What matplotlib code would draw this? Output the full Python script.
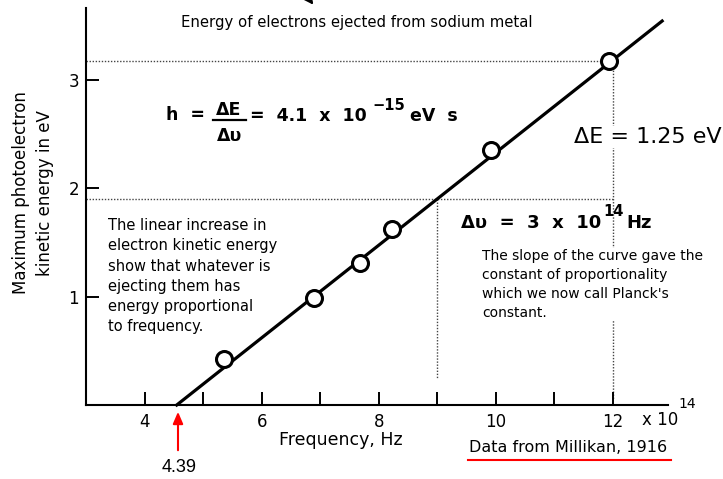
import numpy as np
import matplotlib
matplotlib.use("Agg")
import matplotlib.pyplot as plt

# Millikan sodium data (frequency in 1e14 Hz, energy in eV)
freq = [5.35, 6.89, 7.68, 8.22, 9.91, 11.93]
energy = [0.42, 0.99, 1.31, 1.62, 2.35, 3.17]
# fitted line end points
line_x = [4.55, 12.84]
line_y = [0.0, 3.54]
# construction lines for the slope
e_hi, e_lo = 3.17, 1.90
f_lo, f_hi = 9.0, 12.0

xticks = [4, 5, 6, 7, 8, 9, 10, 11, 12]
xticklabels = ['4', '', '6', '', '8', '', '10', '', '12']
yticks = [1, 2, 3]

W, H = 723, 479
fig = plt.figure(figsize=(W / 100, H / 100), dpi=100)

def px(x, y):
    return (x / W, 1 - y / H)

ax = fig.add_axes([86 / W, 1 - 405 / H, (668 - 86) / W, (405 - 8) / H])
ax.set_xlim(3.0, 12.94)
ax.set_ylim(0, 3.66)
for s in ['top', 'right']:
    ax.spines[s].set_visible(False)
for s in ['left', 'bottom']:
    ax.spines[s].set_linewidth(1.5)

ax.set_xticks(xticks)
ax.set_xticklabels(xticklabels)
ax.set_yticks(yticks)
ax.tick_params(axis='x', direction='in', length=9.5, width=1.4, pad=6, labelsize=12)
ax.tick_params(axis='y', direction='in', length=9, width=1.4, pad=5, labelsize=12)

dot = dict(color='#444444', lw=1, ls=(0, (1, 1.2)), zorder=1)
ax.plot([3.0, f_hi - 0.06], [e_hi, e_hi], **dot)
ax.plot([3.0, f_hi], [e_lo, e_lo], **dot)
ax.plot([f_lo, f_lo], [e_lo, 0.25], **dot)
ax.plot([f_hi, f_hi], [e_hi, 0.05], **dot)

ax.plot(line_x, line_y, color='black', lw=2.3, zorder=3, clip_on=False)
ax.plot(freq, energy, 'o', ms=11.5, mfc='white', mec='black', mew=2.2, zorder=4)

fig.text(*px(33, 193), 'Maximum photoelectron\nkinetic energy in eV', rotation=90,
         ha='center', va='center', fontsize=12, linespacing=1.45, multialignment='center')
fig.text(*px(341, 440), 'Frequency, Hz', ha='center', va='center', fontsize=12.5)
fig.text(*px(660, 420), 'x 10', ha='center', va='center', fontsize=12)
fig.text(*px(687, 404), '14', ha='center', va='center', fontsize=10)

fig.text(*px(357, 23), 'Energy of electrons ejected from sodium metal',
         ha='center', va='center', fontsize=10.7)

# h = dE / dv
bold = dict(fontweight='bold', va='center', fontsize=12.5, zorder=5)
fig.text(*px(166, 115), 'h  =', ha='left', **bold)
fig.text(*px(229, 110), 'ΔE', ha='center', **bold)
fig.text(*px(230, 136), 'Δυ', ha='center', **bold)
fig.add_artist(plt.Line2D([213 / W, 246 / W], [1 - 120 / H, 1 - 120 / H],
                          color='black', lw=1.6, transform=fig.transFigure))
fig.text(*px(250, 116), '=  4.1  x  10', ha='left', **bold)
fig.text(*px(372, 106), '−15', ha='left', fontweight='bold', va='center', fontsize=10.5)
fig.text(*px(410, 116), 'eV  s', ha='left', **bold)

fig.text(*px(722, 137), 'ΔE = 1.25 eV', ha='right', va='center', fontsize=16,
         bbox=dict(fc='white', ec='none', pad=1), zorder=5)

fig.text(*px(461, 223), 'Δυ  =  3  x  10', ha='left', va='center', fontsize=13,
         fontweight='bold', bbox=dict(fc='white', ec='none', pad=1), zorder=5)
fig.text(*px(603, 212), '14', ha='left', va='center', fontsize=10.5, fontweight='bold')
fig.text(*px(626, 223), 'Hz', ha='left', va='center', fontsize=13, fontweight='bold')

fig.text(*px(108, 218), 'The linear increase in\nelectron kinetic energy\nshow that whatever is\n'
         'ejecting them has\nenergy proportional\nto frequency.',
         ha='left', va='top', fontsize=10.5, linespacing=1.44)

fig.text(*px(482, 249), "The slope of the curve gave the\nconstant of proportionality\n"
         "which we now call Planck's\nconstant.", ha='left', va='top', fontsize=10,
         linespacing=1.44, bbox=dict(fc='white', ec='none', pad=1), zorder=5)

fig.text(*px(469, 447), 'Data from Millikan, 1916', ha='left', va='center', fontsize=11.5)
fig.add_artist(plt.Line2D([468 / W, 671 / W], [1 - 460 / H, 1 - 460 / H],
                          color='red', lw=1.5, transform=fig.transFigure))

# red arrow pointing to the intercept
fig.add_artist(matplotlib.patches.FancyArrowPatch(px(178, 453), px(178, 409),
               transform=fig.transFigure, arrowstyle='-|>,head_width=3,head_length=7',
               color='red', lw=1.5, mutation_scale=1))
fig.text(*px(179, 468), '4.39', ha='center', va='center', fontsize=13, family='Liberation Sans')

# clipped arrow head at the top edge
fig.add_artist(matplotlib.patches.FancyArrowPatch(px(295, -20), px(315, 7),
               transform=fig.transFigure, arrowstyle='-|>,head_width=4.5,head_length=9',
               color='black', lw=1.5, mutation_scale=1))

fig.savefig('out.png', dpi=100)
